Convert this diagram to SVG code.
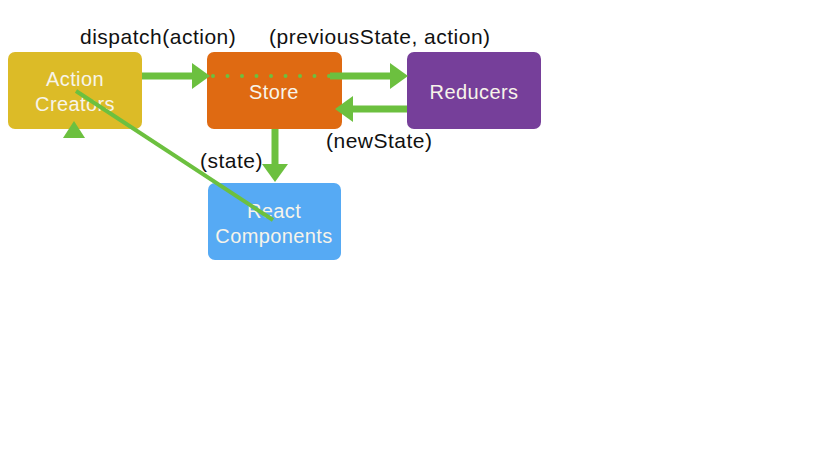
<svg xmlns="http://www.w3.org/2000/svg" width="819" height="460" viewBox="0 0 819 460">
<style>
.node text{font-family:"Liberation Sans",Arial,sans-serif;font-size:20px;letter-spacing:0.4px;fill:#f7f4ea;text-anchor:middle}
.lbl{font-family:"Liberation Sans",Arial,sans-serif;font-size:21px;letter-spacing:0.5px;fill:#111}
.ln{stroke:#6cc03f;fill:none}
.hd{fill:#6cc03f}
</style>
<rect width="819" height="460" fill="#fff"/>
<g id="action-creators" class="node">
<rect x="8" y="52" width="134" height="77" rx="7" fill="#dcbb27"/>
<text x="75" y="86">Action</text>
<text x="75" y="111">Creators</text>
</g>
<g id="store" class="node">
<rect x="207" y="52" width="135" height="77" rx="7" fill="#df6a12"/>
<text x="274" y="99">Store</text>
</g>
<g id="reducers" class="node">
<rect x="407" y="52" width="134" height="77" rx="7" fill="#763f9a"/>
<text x="474" y="99">Reducers</text>
</g>
<g id="react-components" class="node">
<rect x="208" y="183" width="133" height="77" rx="7" fill="#56aaf4"/>
<text x="274" y="218">React</text>
<text x="274" y="243">Components</text>
</g>
<g id="connectors">
<line class="ln" x1="142" y1="76" x2="194" y2="76" stroke-width="7"/>
<polygon class="hd" points="192,63 210,76 192,89"/>
<line class="ln" x1="213" y1="76" x2="330" y2="76" stroke-width="4" stroke-linecap="round" stroke-dasharray="0 14.5"/>
<line class="ln" x1="330" y1="76" x2="392" y2="76" stroke-width="7"/>
<polygon class="hd" points="390,63 408,76 390,89"/>
<line class="ln" x1="407" y1="109" x2="350" y2="109" stroke-width="7"/>
<polygon class="hd" points="353,96 335,109 353,122"/>
<line class="ln" x1="275" y1="129" x2="275" y2="166" stroke-width="7"/>
<polygon class="hd" points="262,164 275,182 288,164"/>
<line class="ln" x1="76" y1="91" x2="273" y2="220" stroke-width="4"/>
<polygon class="hd" points="74,121 85,138 63,138"/>
</g>
<text class="lbl" x="80" y="44">dispatch(action)</text>
<text class="lbl" x="269" y="44">(previousState, action)</text>
<text class="lbl" x="326" y="148">(newState)</text>
<text class="lbl" x="200" y="168">(state)</text>
</svg>
